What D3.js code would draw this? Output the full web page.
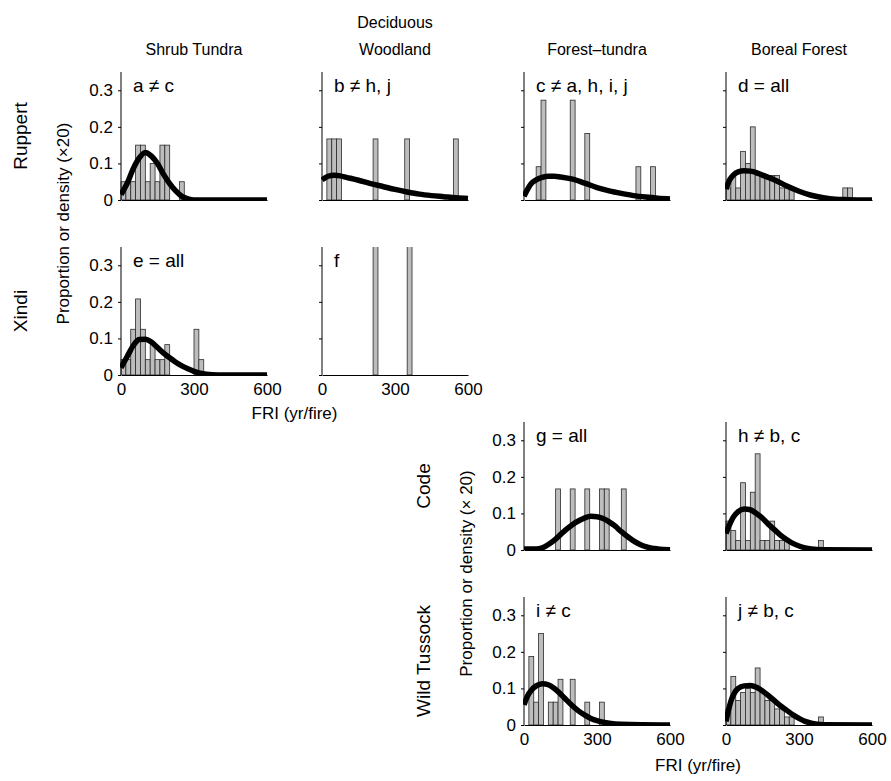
<!DOCTYPE html>
<html>
<head>
<meta charset="utf-8">
<script src="https://cdn.jsdelivr.net/npm/d3@7"></script>
<style>
  body { margin: 0; background: #fff; }
  svg text { font-family: "Liberation Sans", Arial, Helvetica, sans-serif; fill: #000; }
</style>
</head>
<body>
<svg class="chart"></svg>
<script>
// vegetation types (columns) and sites (rows)
var columns = ["Shrub Tundra", "Deciduous\nWoodland", "Forest\u2013tundra", "Boreal Forest"];
var sites = ["Ruppert", "Xindi", "Code", "Wild Tussock"];
var yTicks = [0, 0.1, 0.2, 0.3];
var yTickLabels = ["0", "0.1", "0.2", "0.3"];
var xTicks = [0, 300, 600];

// histogram bars: [bin start (yr/fire), proportion]
var barsA = [[0, 0.05], [20, 0.05], [40, 0.05], [60, 0.15], [80, 0.15], [100, 0.05], [120, 0.10], [140, 0.05], [160, 0.15], [180, 0.15], [240, 0.05]];
var barsB = [[20, 0.167], [40, 0.167], [60, 0.167], [210, 0.167], [340, 0.167], [540, 0.167]];
var barsC = [[50, 0.091], [70, 0.273], [190, 0.273], [250, 0.182], [460, 0.091], [520, 0.091]];
var barsD = [[0, 0.033], [20, 0.067], [40, 0.033], [60, 0.133], [80, 0.10], [100, 0.20], [120, 0.067], [140, 0.067], [160, 0.067], [180, 0.067], [200, 0.067], [220, 0.033], [240, 0.033], [260, 0.033], [480, 0.033], [500, 0.033]];
var barsE = [[0, 0.042], [20, 0.042], [40, 0.125], [60, 0.208], [80, 0.125], [100, 0.042], [120, 0.083], [140, 0.042], [160, 0.042], [180, 0.083], [300, 0.125], [320, 0.042]];
var barsF = [[210, 0.5], [350, 0.5]];
var barsG = [[130, 0.167], [190, 0.167], [250, 0.167], [310, 0.167], [330, 0.167], [400, 0.167]];
var barsH = [[0, 0.079], [20, 0.053], [40, 0.026], [60, 0.184], [80, 0.026], [100, 0.158], [120, 0.263], [140, 0.026], [160, 0.026], [180, 0.079], [200, 0.026], [220, 0.026], [240, 0.026], [380, 0.026]];
var barsI = [[20, 0.1875], [40, 0.0625], [60, 0.25], [100, 0.0625], [120, 0.0625], [140, 0.125], [190, 0.125], [250, 0.0625], [310, 0.0625]];
var barsJ = [[0, 0.044], [20, 0.133], [40, 0.067], [60, 0.089], [80, 0.10], [100, 0.089], [120, 0.156], [140, 0.089], [160, 0.067], [180, 0.067], [200, 0.044], [220, 0.044], [240, 0.022], [260, 0.022], [380, 0.022]];

// fitted densities (x20): [FRI, density]
var densA = [[0, 0.015], [25, 0.045], [50, 0.085], [75, 0.115], [100, 0.13], [125, 0.12], [150, 0.10], [175, 0.07], [200, 0.045], [225, 0.025], [250, 0.01], [275, 0.003], [300, 0], [600, 0]];
var densB = [[0, 0.055], [25, 0.065], [50, 0.068], [75, 0.066], [100, 0.062], [150, 0.054], [200, 0.045], [250, 0.037], [300, 0.029], [350, 0.022], [400, 0.016], [450, 0.012], [500, 0.009], [550, 0.006], [600, 0.004]];
var densC = [[0, 0.01], [15, 0.03], [30, 0.045], [50, 0.055], [75, 0.062], [100, 0.065], [125, 0.065], [150, 0.063], [200, 0.057], [250, 0.046], [300, 0.034], [350, 0.025], [400, 0.018], [450, 0.012], [500, 0.008], [550, 0.005], [600, 0.003]];
var densD = [[0, 0.03], [15, 0.055], [30, 0.068], [50, 0.077], [75, 0.08], [100, 0.079], [125, 0.075], [150, 0.068], [200, 0.055], [250, 0.038], [300, 0.024], [350, 0.013], [400, 0.006], [450, 0.002], [500, 0.001], [600, 0]];
var densE = [[0, 0.02], [25, 0.05], [50, 0.08], [75, 0.097], [100, 0.098], [125, 0.09], [150, 0.075], [175, 0.06], [200, 0.047], [225, 0.035], [250, 0.025], [275, 0.017], [300, 0.01], [325, 0.005], [350, 0.002], [400, 0], [600, 0]];
var densG = [[0, 0.003], [50, 0.003], [75, 0.006], [100, 0.015], [125, 0.027], [150, 0.042], [175, 0.057], [200, 0.07], [225, 0.08], [250, 0.088], [275, 0.092], [300, 0.091], [325, 0.086], [350, 0.077], [375, 0.065], [400, 0.05], [425, 0.037], [450, 0.025], [475, 0.016], [500, 0.009], [525, 0.005], [550, 0.003], [600, 0.001]];
var densH = [[0, 0.045], [15, 0.07], [30, 0.09], [50, 0.105], [75, 0.112], [100, 0.11], [125, 0.10], [150, 0.087], [175, 0.07], [200, 0.055], [225, 0.04], [250, 0.028], [275, 0.018], [300, 0.011], [325, 0.006], [350, 0.003], [400, 0.001], [600, 0]];
var densI = [[0, 0.055], [15, 0.08], [30, 0.095], [50, 0.107], [75, 0.113], [100, 0.11], [125, 0.10], [150, 0.085], [175, 0.068], [200, 0.052], [225, 0.038], [250, 0.027], [275, 0.018], [300, 0.012], [325, 0.008], [350, 0.005], [400, 0.002], [600, 0]];
var densJ = [[0, 0.01], [10, 0.04], [20, 0.065], [35, 0.088], [50, 0.10], [75, 0.107], [100, 0.108], [125, 0.103], [150, 0.093], [175, 0.08], [200, 0.066], [225, 0.052], [250, 0.04], [275, 0.028], [300, 0.018], [325, 0.01], [350, 0.005], [400, 0.001], [600, 0]];

var notes = ["a \u2260 c", "b \u2260 h, j", "c \u2260 a, h, i, j", "d = all", "e = all", "f", "g = all", "h \u2260 b, c", "i \u2260 c", "j \u2260 b, c"];

var panels = [
    {row: 0, col: 0, note: notes[0], bars: barsA, dens: densA, yLab: true,  xLab: false},
    {row: 0, col: 1, note: notes[1], bars: barsB, dens: densB, yLab: false, xLab: false},
    {row: 0, col: 2, note: notes[2], bars: barsC, dens: densC, yLab: false, xLab: false},
    {row: 0, col: 3, note: notes[3], bars: barsD, dens: densD, yLab: false, xLab: false},
    {row: 1, col: 0, note: notes[4], bars: barsE, dens: densE, yLab: true,  xLab: true},
    {row: 1, col: 1, note: notes[5], bars: barsF, dens: null,  yLab: false, xLab: true},
    {row: 2, col: 2, note: notes[6], bars: barsG, dens: densG, yLab: true,  xLab: false},
    {row: 2, col: 3, note: notes[7], bars: barsH, dens: densH, yLab: false, xLab: false},
    {row: 3, col: 2, note: notes[8], bars: barsI, dens: densI, yLab: true,  xLab: true},
    {row: 3, col: 3, note: notes[9], bars: barsJ, dens: densJ, yLab: false, xLab: true}
];

function show() {
    'use strict';
    var width = 891, height = 781;
    var colLeft = [121, 322, 524, 726],
        rowBase = [200, 375, 550, 725];
    var pw = 146, ph = 128, binW = 20;

    var svg = d3.select(".chart")
        .attr("width", width)
        .attr("height", height);

    var x = d3.scaleLinear().domain([0, 600]).range([0, pw]);
    var y = d3.scaleLinear().domain([0, 0.35]).range([ph, 0]);

    var line = d3.line()
        .x(function (d) { return x(d[0]); })
        .y(function (d) { return y(d[1]); })
        .curve(d3.curveMonotoneX);

    svg.append("defs").append("clipPath")
        .attr("id", "clip-panel")
        .append("rect").attr("x", -1).attr("y", 0).attr("width", pw + 6).attr("height", ph);

    // column titles
    columns.forEach(function (t, c) {
        var lines = t.split("\n");
        lines.forEach(function (s, i) {
            svg.append("text")
                .attr("x", colLeft[c] + pw / 2)
                .attr("y", 55 - (lines.length - 1 - i) * 27)
                .attr("text-anchor", "middle")
                .style("font-size", "16px")
                .text(s);
        });
    });

    panels.forEach(function (p) {
        var g = svg.append("g")
            .attr("transform", "translate(" + colLeft[p.col] + "," + (rowBase[p.row] - ph) + ")");

        var plot = g.append("g").attr("clip-path", "url(#clip-panel)");

        plot.selectAll("rect.bar").data(p.bars).enter()
            .append("rect")
            .attr("class", "bar")
            .attr("x", function (d) { return x(d[0]); })
            .attr("width", function (d) { return x(d[0] + binW) - x(d[0]); })
            .attr("y", function (d) { return y(d[1]); })
            .attr("height", function (d) { return ph - y(d[1]); })
            .attr("fill", "#bdbdbd")
            .attr("stroke", "#2a2a2a")
            .attr("stroke-width", 0.8);

        if (p.dens) {
            plot.append("path")
                .datum(p.dens)
                .attr("d", line)
                .attr("fill", "none")
                .attr("stroke", "#000")
                .attr("stroke-width", 5.5);
        }

        var ya = d3.axisLeft(y).tickValues(yTicks)
            .tickSizeInner(3).tickSizeOuter(0).tickPadding(5)
            .tickFormat(function (d, i) { return p.yLab ? yTickLabels[i] : ""; });
        var yg = g.append("g").call(ya);
        yg.select(".domain").attr("d", "M0,0V" + ph);
        yg.selectAll("text").style("font-size", "17px").style("font-family", "Liberation Sans, Arial, sans-serif");

        var xa = d3.axisBottom(x).tickValues(xTicks)
            .tickSizeInner(0).tickSizeOuter(0).tickPadding(8);
        if (!p.xLab) xa.tickFormat("");
        var xg = g.append("g").attr("transform", "translate(0," + ph + ")").call(xa);
        xg.selectAll("text").style("font-size", "17px").style("font-family", "Liberation Sans, Arial, sans-serif");

        g.append("text")
            .attr("x", 12)
            .attr("y", 20)
            .style("font-size", "19px")
            .text(p.note);
    });

    // row (site) labels
    var rowLabelX = [20, 20, 423, 423];
    sites.forEach(function (s, r) {
        svg.append("text")
            .attr("transform", "translate(" + (rowLabelX[r] + 7) + "," + (rowBase[r] - ph / 2) + ") rotate(-90)")
            .attr("text-anchor", "middle")
            .style("font-size", "19px")
            .text(s);
    });

    // y axis titles
    svg.append("text")
        .attr("transform", "translate(69," + ((rowBase[0] - ph + rowBase[1]) / 2) + ") rotate(-90)")
        .attr("text-anchor", "middle")
        .style("font-size", "17px")
        .text("Proportion or density (\u00d720)");
    svg.append("text")
        .attr("transform", "translate(472," + ((rowBase[2] - ph + rowBase[3]) / 2) + ") rotate(-90)")
        .attr("text-anchor", "middle")
        .style("font-size", "17px")
        .text("Proportion or density (\u00d7 20)");

    // x axis titles
    svg.append("text")
        .attr("x", (colLeft[0] + colLeft[1] + pw) / 2)
        .attr("y", rowBase[1] + 44)
        .attr("text-anchor", "middle")
        .style("font-size", "17px")
        .text("FRI (yr/fire)");
    svg.append("text")
        .attr("x", (colLeft[2] + colLeft[3] + pw) / 2)
        .attr("y", rowBase[3] + 46)
        .attr("text-anchor", "middle")
        .style("font-size", "17px")
        .text("FRI (yr/fire)");
}

show();
</script>
</body>
</html>
